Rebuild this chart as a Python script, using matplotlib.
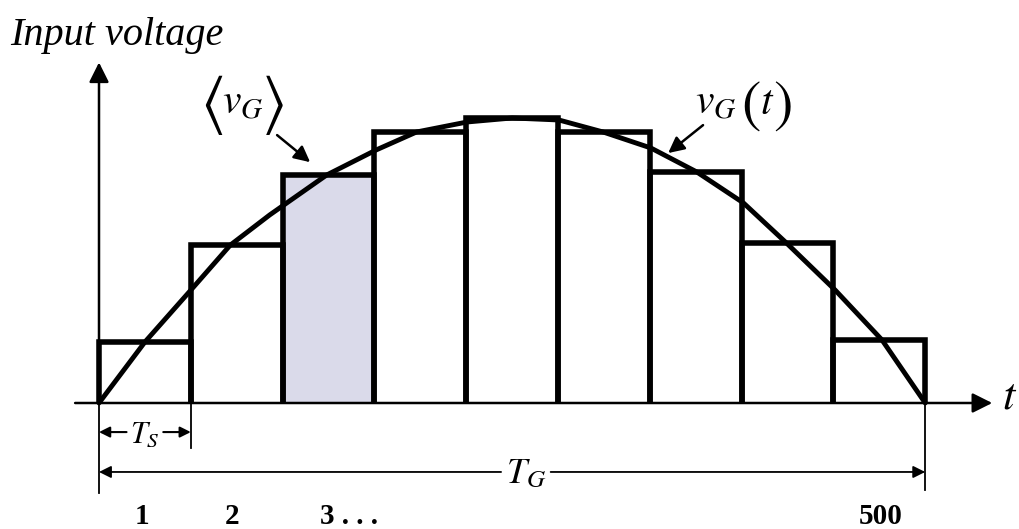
import matplotlib
matplotlib.use("Agg")
import matplotlib.pyplot as plt
from matplotlib.patches import FancyArrowPatch

plt.rcParams['font.family'] = ['Liberation Serif', 'DejaVu Serif']
plt.rcParams['mathtext.fontset'] = 'stix'

# sample intervals (units of T_S) and the averaged input voltage over each
bar_edges = [0, 1, 2, 3, 4, 5, 6, 7, 8, 9]
bar_heights = [0.214, 0.554, 0.800, 0.951, 1.000, 0.951, 0.811, 0.561, 0.221]
shaded_bar = 2

# instantaneous input voltage v_G(t)
curve_t = [0.0, 0.50, 1.00, 1.43, 1.86, 2.48, 3.02, 3.46, 4.01, 4.50,
           5.01, 5.49, 6.01, 6.51, 7.02, 7.49, 8.02, 8.53, 9.0]
curve_v = [0.0, 0.214, 0.396, 0.554, 0.660, 0.800, 0.888, 0.951, 0.986, 1.0,
           0.993, 0.951, 0.895, 0.811, 0.702, 0.561, 0.396, 0.221, 0.0]

period_labels = ['1', '2', '3 . . .', '500']
period_label_t = [0.47, 1.45, 2.72, 8.52]

fig = plt.figure(figsize=(10.2, 5.29), dpi=100)
ax = fig.add_axes([0, 0, 1, 1])
ax.set_xlim(-99 / 91.8, 921 / 91.8)
ax.set_ylim(-126 / 285, 403 / 285)
ax.axis('off')


def arrow(p0, p1, lw=1.6, scale=22, style='-|>'):
    a = FancyArrowPatch(p0, p1, arrowstyle=style, mutation_scale=scale,
                        lw=lw, color='black', shrinkA=0, shrinkB=0)
    ax.add_patch(a)


# shaded sample
x0, x1 = bar_edges[shaded_bar], bar_edges[shaded_bar + 1]
ax.fill_between([x0, x1], 0, bar_heights[shaded_bar], color='#dadaea', lw=0)

# step outline of the averaged voltage
for i, h in enumerate(bar_heights):
    x0, x1 = bar_edges[i], bar_edges[i + 1]
    ax.plot([x0, x0, x1, x1], [0, h, h, 0], color='black', lw=4,
            solid_joinstyle='miter', solid_capstyle='butt')

ax.plot(curve_t, curve_v, color='black', lw=3.5, solid_capstyle='round')

# axes
arrow((0, 0), (0, 1.195), lw=1.8, scale=30)
arrow((-0.26, 0), (9.73, 0), lw=1.8, scale=30)
ax.text(9.92, 0.02, r'$t$', fontsize=32, ha='center', va='center')
ax.text(-0.97, 1.29, 'Input voltage', fontsize=29, style='italic',
        ha='left', va='center')

# extension lines
ax.plot([0, 0], [0, -0.316], color='black', lw=1.3)
ax.plot([1, 1], [0, -0.158], color='black', lw=1.3)
ax.plot([9, 9], [0, -0.305], color='black', lw=1.3)

# T_S dimension
ys = -0.102
arrow((0.30, ys), (0, ys), lw=1.5, scale=16)
arrow((0.70, ys), (1, ys), lw=1.5, scale=16)
ax.text(0.50, ys - 0.01, r'$T_S$', fontsize=22, ha='center', va='center')

# T_G dimension
yg = -0.242
arrow((4.38, yg), (0, yg), lw=1.3, scale=18)
arrow((4.92, yg), (9, yg), lw=1.3, scale=18)
ax.text(4.65, yg - 0.01, r'$T_G$', fontsize=26, ha='center', va='center')

for lab, t in zip(period_labels, period_label_t):
    ax.text(t, -0.40, lab, fontsize=21, fontweight='bold',
            ha='center', va='center')

# <v_G> label with tall brackets
ax.text(1.23, 1.046, r'$\langle$', fontsize=46, ha='center', va='center')
ax.text(1.57, 1.05, r'$v_G$', fontsize=30, ha='center', va='center')
ax.text(1.89, 1.046, r'$\rangle$', fontsize=46, ha='center', va='center')
arrow((1.94, 0.940), (2.30, 0.845), lw=1.8, scale=24)

# v_G(t) label with tall parentheses
ax.text(6.72, 1.05, r'$v_G$', fontsize=30, ha='center', va='center')
ax.text(7.10, 1.042, r'$($', fontsize=42, ha='center', va='center')
ax.text(7.28, 1.05, r'$t$', fontsize=30, ha='center', va='center')
ax.text(7.44, 1.042, r'$)$', fontsize=42, ha='center', va='center')
arrow((6.58, 0.975), (6.20, 0.877), lw=1.8, scale=24)

fig.savefig('out.png', dpi=100)
